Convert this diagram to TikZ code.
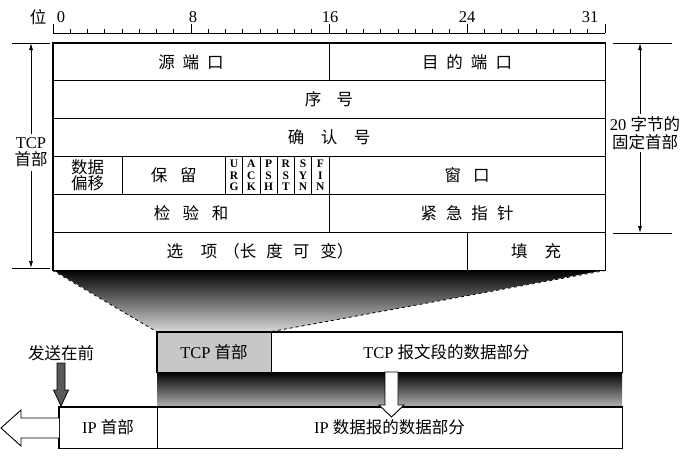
\documentclass[tikz,border=0pt]{standalone}
\usepackage{fontspec}
\setmainfont{Liberation Serif}
\newfontfamily\cjk{Noto Sans CJK SC}
\usetikzlibrary{arrows.meta}
\newcommand{\zh}[1]{{\cjk #1}}
\newcommand{\zs}[1]{\hspace{#1pt}}
\newcommand{\cellnm}[7][]{\node[cellbox,#1,minimum width={(#5)-(#3)},minimum height={(#6)-(#4)}] (#2) at ({((#3)+(#5))/2},{((#4)+(#6))/2}) {#7};}
\begin{document}
\begin{tikzpicture}[x=1pt,y=-1pt,
  basefont/.style={font=\fontsize{16.5}{18}\selectfont},
  cellbox/.style={draw,line width=0.9pt,inner sep=0pt,align=center,basefont},
  flagfont/.style={font=\fontsize{11.5}{11.6}\selectfont\bfseries},
  lbl/.style={inner sep=1pt,align=center,basefont},
  dimline/.style={line width=0.8pt},
  dimarrow/.style={line width=0.8pt,-{Latex[length=7pt,width=4pt]}},
  outline/.style={line width=1.8pt},
  blockarrow/.style={line width=0.9pt,fill=white,line join=miter}
]
\useasboundingbox (0,0) rectangle (692,464);

% ---- ruler ----
\draw[line width=0.8pt] (53,33) -- (605,33);
\foreach \k in {0,...,32}{\draw[line width=0.7pt] ({53+17.25*\k},33) -- ({53+17.25*\k},29);}
\foreach \k in {0,8,16,24,32}{\draw[line width=0.7pt] ({53+17.25*\k},33) -- ({53+17.25*\k},24);}
\node[lbl] (wei) at (38,17) {\zh{位}};
\node[lbl] (b0) at (61,17) {0};
\node[lbl] (b8) at (193,17) {8};
\node[lbl] (b16) at (330,17) {16};
\node[lbl] (b24) at (467,17) {24};
\node[lbl] (b31) at (590,17) {31};

% ---- shading between header and segment ----
\shade[top color=black,middle color=black!60,bottom color=black!15]
  (53,270) -- (605,270) -- (271,332) -- (157,332) -- cycle;
\shade[top color=black,middle color=black!65,bottom color=black!30]
  (157,372) rectangle (622,407);

% ---- header table ----
\cellnm{src}{53}{43}{329}{80.8}{\zh{源\zs{8}端\zs{8}口}}
\cellnm{dst}{329}{43}{605}{80.8}{\zh{目\zs{8}的\zs{8}端\zs{8}口}}
\cellnm{seq}{53}{80.8}{605}{118.6}{\zh{序\zs{15.5}号}}
\cellnm{ack}{53}{118.6}{605}{156.4}{\zh{确\zs{16.5}认\zs{16.5}号}}
\cellnm{off}{53}{156.4}{122}{194.2}{\zh{数据}\\[-2pt]\zh{偏移}}
\cellnm{rsv}{122}{156.4}{225.5}{194.2}{\zh{保\zs{13}留}}
\foreach \n/\a/\b/\c [count=\i from 0] in {urgf/U/R/G,ackf/A/C/K,pshf/P/S/H,rstf/R/S/T,synf/S/Y/N,finf/F/I/N}{
  \cellnm[flagfont]{\n}{53+17.25*(10+\i)}{156.4}{53+17.25*(11+\i)}{194.2}{\a\\\b\\\c}
}
\cellnm{win}{329}{156.4}{605}{194.2}{\zh{窗\zs{12}口}}
\cellnm{chk}{53}{194.2}{329}{232}{\zh{检\zs{12.5}验\zs{12.5}和}}
\cellnm{urp}{329}{194.2}{605}{232}{\zh{紧\zs{9}急\zs{9}指\zs{9}针}}
\cellnm{opt}{53}{232}{467}{270}{\zh{选\zs{18}项\zs{6}（长\zs{10}度\zs{10}可\zs{11}变）}}
\cellnm{pad}{467}{232}{605}{270}{\zh{填\zs{17}充}}
\draw[outline] (src.north west) rectangle (pad.south east);

% ---- dimension marks ----
\coordinate (ltop) at (31,43);
\coordinate (lbot) at (31,268);
\draw[dimline] (12,43) -- (50,43);
\draw[dimline] (12,268) -- (50,268);
\node[lbl] (tcplab) at (31,152) {TCP\\[-1pt]\zh{首部}};
\draw[dimarrow] (tcplab.north -| ltop) ++(0,-2) -- (ltop);
\draw[dimarrow] (tcplab.south -| lbot) ++(0,3) -- (lbot);

\coordinate (rtop) at (640,43);
\coordinate (rbot) at (640,233);
\draw[dimline] (613,43) -- (672,43);
\draw[dimline] (613,233) -- (672,233);
\node[lbl] (fixlab) at (645,133) {20 \zh{字节的}\\[0pt]\zh{固定首部}};
\draw[dimarrow] (fixlab.north -| rtop) ++(0,-1) -- (rtop);
\draw[dimarrow] (fixlab.south -| rbot) ++(0,1) -- (rbot);

% ---- TCP segment ----
\cellnm[fill=black!22]{tcph}{157}{332}{271}{372}{TCP \zh{首部}}
\cellnm{tcpd}{271}{332}{622}{372}{TCP \zh{报文段的数据部分}}
\draw[outline,line width=1.6pt] (tcph.north west) rectangle (tcpd.south east);
\draw[dashed,line width=0.8pt] (opt.south west) -- (tcph.north west);
\draw[dashed,line width=0.8pt] (pad.south east) -- (tcph.north east);

% ---- IP datagram ----
\cellnm{iph}{59}{407}{157}{448}{IP \zh{首部}}
\cellnm{ipd}{157}{407}{622}{448}{IP \zh{数据报的数据部分}}
\draw[outline,line width=1.6pt] (iph.north west) rectangle (ipd.south east);

% ---- arrows ----
\draw[blockarrow] (385,372) -- (398,372) -- (398,405) -- (404,405) -- (391.5,417)
  -- (379,405) -- (385,405) -- cycle;
\draw[blockarrow] (59,418) -- (21,418) -- (21,410) -- (1,428) -- (21,446) -- (21,438)
  -- (59,438);
\node[lbl] (first) at (61,353) {\zh{发送在前}};
\draw[line width=0.8pt,fill=black!65,line join=miter] (57,363) -- (65,363) -- (65,390)
  -- (68.5,390) -- (61,406) -- (53.5,390) -- (57,390) -- cycle;
\end{tikzpicture}
\end{document}
